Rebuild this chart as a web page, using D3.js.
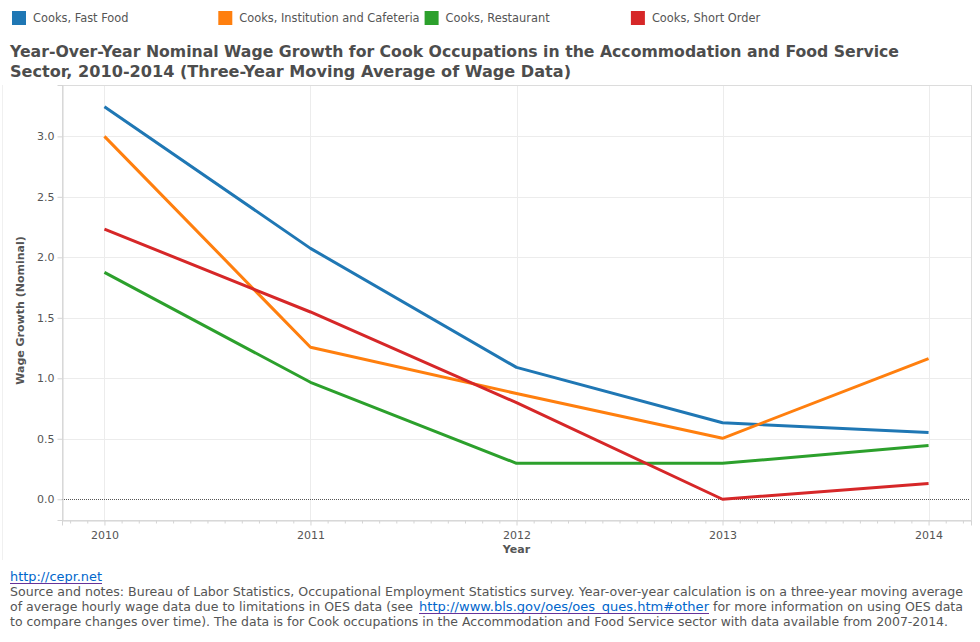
<!DOCTYPE html>
<html>
<head>
<meta charset="utf-8">
<script src="https://d3js.org/d3.v7.min.js"></script>
<style>
  body { margin: 0; background: #fff; }
  svg { display: block; }
</style>
</head>
<body>
<svg id="chart" width="980" height="642"></svg>
<script>
// ---- data ----
const years = [2010, 2011, 2012, 2013, 2014];
const seriesNames = ["Cooks, Fast Food", "Cooks, Institution and Cafeteria", "Cooks, Restaurant", "Cooks, Short Order"];
const fastFood    = [3.245, 2.074, 1.090, 0.632, 0.551];
const institution = [3.000, 1.256, 0.874, 0.504, 1.163];
const restaurant  = [1.876, 0.967, 0.297, 0.297, 0.444];
const shortOrder  = [2.233, 1.548, 0.798, 0.000, 0.130];
const seriesColors = ["#1f77b4", "#ff7f0e", "#2ca02c", "#d62728"];
const yTicks = [0, 0.5, 1.0, 1.5, 2.0, 2.5, 3.0];
const titleLines = [
  "Year-Over-Year Nominal Wage Growth for Cook Occupations in the Accommodation and Food Service",
  "Sector, 2010-2014 (Three-Year Moving Average of Wage Data)"
];

const seriesValues = [fastFood, institution, restaurant, shortOrder];
const series = seriesNames.map((name, i) => ({
  name, color: seriesColors[i],
  points: years.map((yr, j) => ({ year: yr, value: seriesValues[i][j] }))
}));

const svg = d3.select("#chart");
const textColor = "#555555";
const plot = { left: 62, right: 971, top: 85, bottom: 520 };

const x = d3.scaleLinear().domain([2009.794, 2014.206]).range([plot.left, plot.right]);
const y = d3.scaleLinear().domain([-0.1715, 3.4245]).range([plot.bottom, plot.top]);

// faint outer line on the left
svg.append("line").attr("x1", 2.5).attr("x2", 2.5).attr("y1", 85).attr("y2", 560)
  .attr("stroke", "#f0f0f0").attr("stroke-width", 1);

// ---- legend ----
const legend = svg.append("g");
seriesNames.forEach((name, i) => {
  const lx = 12 + i * 206.3;
  legend.append("rect").attr("x", lx).attr("y", 11).attr("width", 14).attr("height", 14)
    .attr("fill", seriesColors[i]);
  legend.append("text").attr("x", lx + 21).attr("y", 22)
    .attr("font-family", "'DejaVu Sans', Verdana, sans-serif").attr("font-size", 11.4)
    .attr("fill", textColor).text(name);
});

// ---- title ----
const titleLens = [889, 561];
titleLines.forEach((t, i) => {
  svg.append("text").attr("x", 10).attr("y", 57 + i * 20)
    .attr("font-family", "'DejaVu Sans', Verdana, sans-serif").attr("font-weight", "bold")
    .attr("font-size", 16.5).attr("fill", "#4d4d4d")
    .attr("textLength", titleLens[i]).attr("lengthAdjust", "spacingAndGlyphs").text(t);
});

// ---- grid ----
const grid = svg.append("g");
grid.selectAll(".hg").data(yTicks).join("line")
  .attr("x1", plot.left).attr("x2", plot.right)
  .attr("y1", d => Math.round(y(d)) + 0.5).attr("y2", d => Math.round(y(d)) + 0.5)
  .attr("stroke", d => d === 0 ? "none" : "#ececec").attr("stroke-width", 1);
grid.selectAll(".vg").data(years).join("line")
  .attr("x1", d => Math.round(x(d)) + 0.5).attr("x2", d => Math.round(x(d)) + 0.5)
  .attr("y1", plot.top).attr("y2", plot.bottom)
  .attr("stroke", "#ececec").attr("stroke-width", 1);

// frame
svg.append("rect").attr("x", plot.left + 0.5).attr("y", plot.top + 0.5)
  .attr("width", plot.right - plot.left).attr("height", plot.bottom - plot.top)
  .attr("fill", "none").attr("stroke", "#dcdcdc").attr("stroke-width", 1);

// zero line (dotted)
svg.append("line").attr("x1", plot.left).attr("x2", plot.right - 2)
  .attr("y1", Math.round(y(0)) + 0.5).attr("y2", Math.round(y(0)) + 0.5)
  .attr("stroke", "#555").attr("stroke-width", 1).attr("stroke-dasharray", "1,1");

// ---- y axis ----
const yAxis = d3.axisLeft(y).tickValues(yTicks).tickFormat(d3.format(".1f")).tickSize(5).tickPadding(3);
const gy = svg.append("g").attr("transform", `translate(${plot.left + 0.5},0)`).call(yAxis);
gy.select(".domain").attr("stroke", "#d4d4d4");
gy.selectAll(".tick line").attr("stroke", "#d4d4d4");
gy.selectAll(".tick text").attr("fill", textColor)
  .attr("font-family", "'DejaVu Sans', Verdana, sans-serif").attr("font-size", 11);

// ---- x axis: monthly minor ticks + yearly major ----
const minorTicks = d3.range(2009 + 10 / 12, 2014.2, 1 / 12).filter(v => Math.abs(v - Math.round(v)) > 0.01);
const xMinor = d3.axisBottom(x).tickValues(minorTicks).tickSize(3).tickFormat("");
const gxm = svg.append("g").attr("transform", `translate(0,${plot.bottom + 0.5})`).call(xMinor);
gxm.select(".domain").remove();
gxm.selectAll(".tick line").attr("stroke", "#d4d4d4");

const xAxis = d3.axisBottom(x).tickValues(years).tickFormat(d3.format("d")).tickSize(5).tickPadding(6);
const gx = svg.append("g").attr("transform", `translate(0,${plot.bottom + 0.5})`).call(xAxis);
gx.select(".domain").attr("stroke", "#d4d4d4");
gx.selectAll(".tick line").attr("stroke", "#d4d4d4");
gx.selectAll(".tick text").attr("fill", textColor)
  .attr("font-family", "'DejaVu Sans', Verdana, sans-serif").attr("font-size", 11);

// axis titles
svg.append("text").attr("x", (plot.left + plot.right) / 2 + 0).attr("y", 553)
  .attr("text-anchor", "middle").attr("font-family", "'DejaVu Sans', Verdana, sans-serif")
  .attr("font-weight", "bold").attr("font-size", 11).attr("fill", textColor).text("Year");
svg.append("text").attr("transform", `translate(24,${(plot.top + plot.bottom) / 2 + 8}) rotate(-90)`)
  .attr("text-anchor", "middle").attr("font-family", "'DejaVu Sans', Verdana, sans-serif")
  .attr("font-weight", "bold").attr("font-size", 11).attr("fill", textColor).text("Wage Growth (Nominal)");

// ---- lines ----
const line = d3.line().x(d => x(d.year)).y(d => y(d.value));
svg.append("g").selectAll("path").data(series).join("path")
  .attr("d", d => line(d.points))
  .attr("fill", "none").attr("stroke", d => d.color).attr("stroke-width", 3)
  .attr("stroke-linejoin", "round").attr("stroke-linecap", "butt");

// ---- footer ----
const ff = "'DejaVu Sans', Tahoma, sans-serif";
const fs = 12;
function ftext(str, xx, yy, len, color, underline) {
  const t = svg.append("text").attr("x", xx).attr("y", yy)
    .attr("font-family", ff).attr("font-size", fs).attr("fill", color).text(str);
  if (len) t.attr("textLength", len).attr("lengthAdjust", "spacingAndGlyphs");
  if (underline) {
    svg.append("line").attr("x1", xx).attr("x2", xx + len).attr("y1", yy + 2.5).attr("y2", yy + 2.5)
      .attr("stroke", underline).attr("stroke-width", 1);
  }
  return t;
}
ftext("http://cepr.net", 10, 581, 92, "#0066cc", "#663399");
ftext("Source and notes: Bureau of Labor Statistics, Occupational Employment Statistics survey. Year-over-year calculation is on a three-year moving average", 10, 596, 953, textColor);
ftext("of average hourly wage data due to limitations in OES data (see", 10, 611, 403, textColor);
ftext("http://www.bls.gov/oes/oes_ques.htm#other", 419, 611, 290, "#0066cc", "#663399");
ftext("for more information on using OES data", 713, 611, 250, textColor);
ftext("to compare changes over time). The data is for Cook occupations in the Accommodation and Food Service sector with data available from 2007-2014.", 10, 626, 938, textColor);
</script>
</body>
</html>
